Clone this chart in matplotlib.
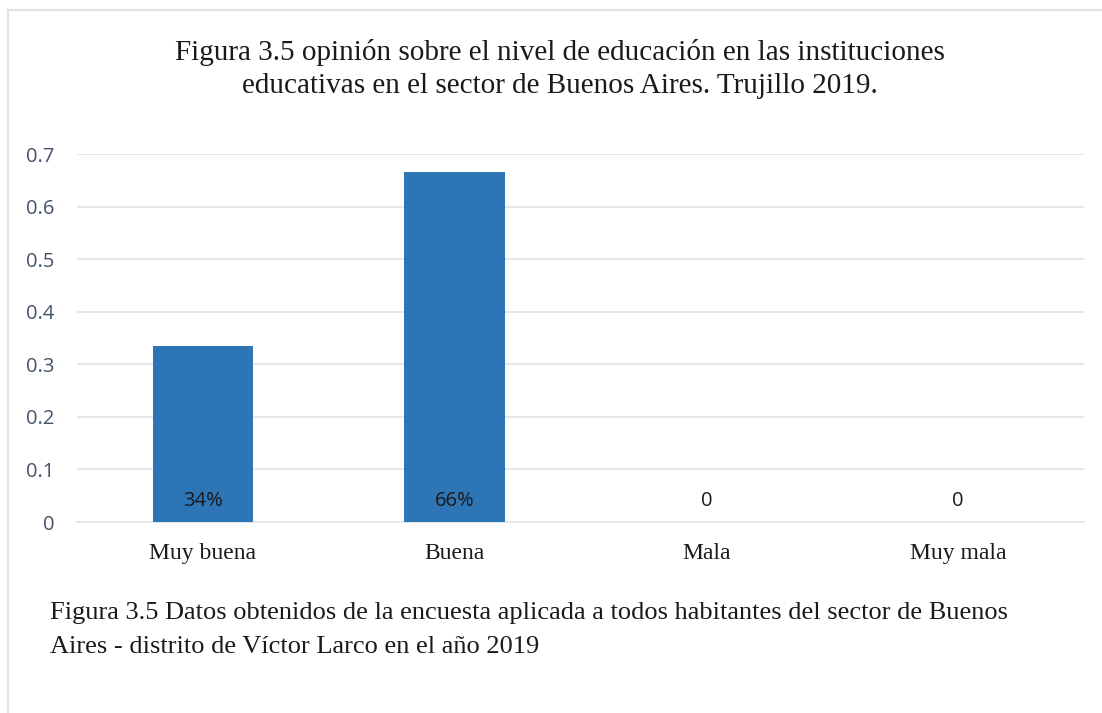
import numpy as np
import matplotlib.pyplot as plt

categorias = ["Muy buena", "Buena", "Mala", "Muy mala"]
valores = [0.335, 0.665, 0, 0]
etiquetas = ["34%", "66%", "0", "0"]
yticks = [0, 0.1, 0.2, 0.3, 0.4, 0.5, 0.6, 0.7]

titulo = ("Figura 3.5 opinión sobre el nivel de educación en las instituciones\n"
          "educativas en el sector de Buenos Aires. Trujillo 2019.")
nota = ("Figura 3.5 Datos obtenidos de la encuesta aplicada a todos habitantes del sector de Buenos\n"
        "Aires - distrito de Víctor Larco en el año 2019")

serif = "Liberation Serif"
sans = ["Open Sans", "DejaVu Sans"]
gris = "#dfe3ea"

W, H = 1102, 713


def main():
    fig = plt.figure(figsize=(W / 100, H / 100), dpi=100)
    # ejes en pixeles: izq 77, der 1084, arriba 154, abajo 522
    ax = fig.add_axes([77 / W, 1 - 522 / H, (1084 - 77) / W, (522 - 154) / H])

    x = np.arange(len(categorias))
    ax.bar(x, valores, width=0.4, color="#2e75b6", zorder=3)
    ax.set_xlim(-0.5, len(categorias) - 0.5)
    ax.set_ylim(0, 0.7)

    for xi, lab in zip(x, etiquetas):
        ax.text(xi, 0.04, lab, ha="center", va="center", fontsize=14.5,
                family=sans, color="#1a1a1a", zorder=4)

    ax.set_yticks(yticks)
    ax.set_yticklabels([("%g" % v) for v in yticks], family=sans, fontsize=14.5, color="#44546a")
    ax.set_xticks(x)
    ax.set_xticklabels(categorias, family=serif, fontsize=17, color="#1a1a1a")
    ax.tick_params(axis="y", length=0, pad=16)
    ax.tick_params(axis="x", length=0, pad=15)
    ax.grid(axis="y", color=gris, linewidth=1.2, zorder=0)
    for s in ["top", "right", "left"]:
        ax.spines[s].set_visible(False)
    ax.spines["bottom"].set_color(gris)
    ax.spines["bottom"].set_linewidth(1.2)

    fig.text(560 / W, 1 - 69 / H, titulo, ha="center", va="center", family=serif,
             fontsize=21, color="#1a1a1a", linespacing=1.36)
    fig.text(50 / W, 1 - 630 / H, nota, ha="left", va="center", family=serif,
             fontsize=19, color="#1a1a1a", linespacing=1.65)

    # marco del grafico
    fig.add_artist(plt.Line2D([8 / W, 8 / W], [0, 1 - 10 / H], color=gris, linewidth=1.5))
    fig.add_artist(plt.Line2D([8 / W, 1], [1 - 10 / H, 1 - 10 / H], color=gris, linewidth=1.5))

    plt.savefig("out.png", dpi=100)


main()
